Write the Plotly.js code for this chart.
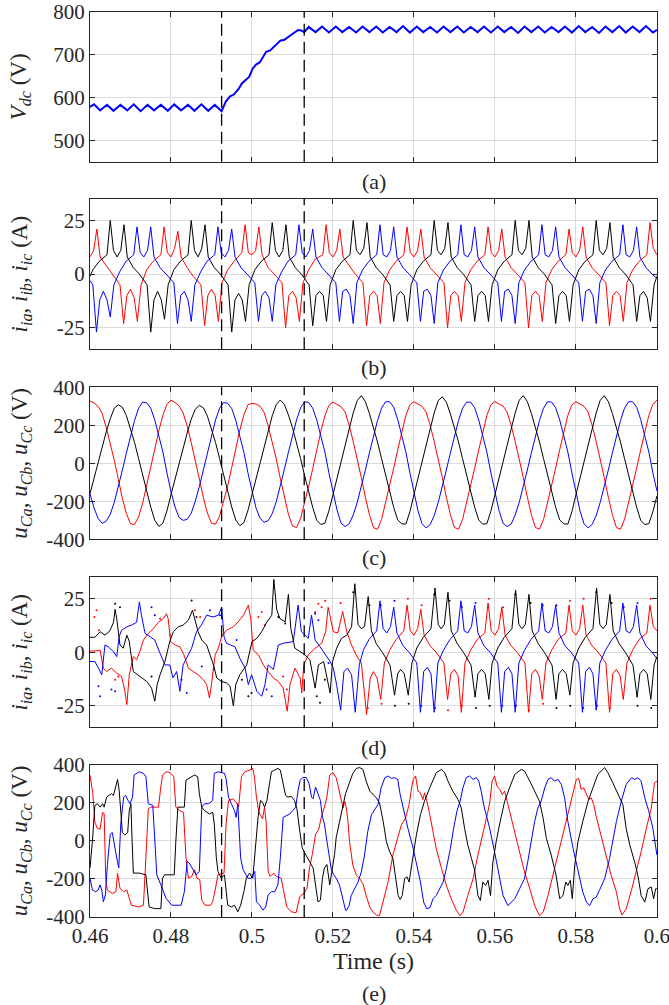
<!DOCTYPE html>
<html>
<head>
<meta charset="utf-8">
<script src="https://cdn.plot.ly/plotly-3.0.1.min.js"></script>
<style>html,body{margin:0;padding:0;background:#fff;}#chart{width:669px;height:1005px;}</style>
</head>
<body>
<div id="chart"></div>
<script>
// ---------------- DATA ----------------
const xTickVals = [0.46, 0.48, 0.50, 0.52, 0.54, 0.56, 0.58, 0.60];
const xTickText = ['0.46', '0.48', '0.5', '0.52', '0.54', '0.56', '0.58', '0.6'];
const vdcTickVals = [500, 600, 700, 800];
const curTickVals = [-25, 0, 25];
const curTickText = ['-25', '0', '25'];
const voltTickVals = [-400, -200, 0, 200, 400];
const voltTickText = ['-400', '-200', '0', '200', '400'];
const eventTimes = [0.4925, 0.5129];
const panelLabels = ['(a)', '(b)', '(c)', '(d)', '(e)'];

// (a) DC-link voltage [time, V]
const vdc = [[0.4600,578],[0.4610,584],[0.4625,570],[0.4642,583],[0.4658,569],[0.4675,583],[0.4692,570],[0.4708,584],[0.4725,568],[0.4742,583],[0.4758,570],[0.4775,583],[0.4792,569],[0.4808,584],[0.4825,570],[0.4842,583],[0.4858,569],[0.4875,584],[0.4892,569],[0.4908,583],[0.4925,568],
[0.4935,590],[0.4946,603],[0.4955,607],[0.4967,620],[0.4975,633],[0.4983,640],[0.4993,648],[0.5002,668],[0.5010,677],[0.5019,682],[0.5028,695],[0.5035,707],[0.5045,710],[0.5052,716],[0.5062,724],[0.5070,733],[0.5080,735],[0.5093,745],[0.5105,752],[0.5114,758],[0.5122,757],[0.5129,753],
[0.5140,765],[0.5157,753],[0.5173,766],[0.5190,752],[0.5207,766],[0.5223,753],[0.5240,765],[0.5257,752],[0.5273,766],[0.5290,753],[0.5307,766],[0.5323,752],[0.5340,765],[0.5357,753],[0.5373,767],[0.5390,752],[0.5407,766],[0.5423,753],[0.5440,765],[0.5457,752],[0.5473,766],[0.5490,753],[0.5507,766],[0.5523,752],[0.5540,765],[0.5557,753],[0.5573,766],[0.5590,752],[0.5607,766],[0.5623,753],[0.5640,765],[0.5657,751],[0.5673,766],[0.5690,753],[0.5707,766],[0.5723,752],[0.5740,765],[0.5757,753],[0.5773,766],[0.5790,752],[0.5807,767],[0.5823,753],[0.5840,765],[0.5857,751],[0.5873,766],[0.5890,753],[0.5907,767],[0.5923,752],[0.5940,766],[0.5957,753],[0.5973,767],[0.5990,752],[0.6000,758]];

// (b) currents [time, A]
const bRed = [[0.4600,8],[0.4609,11],[0.4617,21],[0.4625,8],[0.4640,4],[0.4655,0],[0.4674,-5],[0.4683,-23],[0.4691,-10],[0.4700,-7],[0.4709,-11],[0.4717,-22],[0.4726,-5],[0.4740,2],[0.4756,6],[0.4775,9],
[0.4783,22],[0.4791,10],[0.4800,8],[0.4809,12],[0.4817,20],[0.4825,8],[0.4840,3],[0.4855,-1],[0.4874,-5],[0.4883,-24],[0.4891,-10],[0.4900,-7],[0.4909,-10],[0.4917,-22],[0.4926,-4],[0.4940,2],[0.4956,6],[0.4975,10],
[0.4983,23],[0.4991,10],[0.5000,9],[0.5009,11],[0.5017,22],[0.5025,9],[0.5040,3],[0.5055,0],[0.5074,-4],[0.5083,-25],[0.5091,-10],[0.5100,-8],[0.5109,-11],[0.5117,-22],[0.5126,-4],[0.5140,2],[0.5156,7],[0.5175,9],
[0.5183,23],[0.5191,10],[0.5200,8],[0.5209,11],[0.5217,21],[0.5225,8],[0.5240,4],[0.5255,0],[0.5274,-4],[0.5283,-24],[0.5291,-10],[0.5300,-8],[0.5309,-10],[0.5317,-23],[0.5326,-4],[0.5340,2],[0.5356,6],[0.5375,9],
[0.5383,22],[0.5391,10],[0.5400,8],[0.5409,11],[0.5417,21],[0.5425,8],[0.5440,3],[0.5455,0],[0.5474,-4],[0.5483,-25],[0.5491,-10],[0.5500,-8],[0.5509,-10],[0.5517,-22],[0.5526,-4],[0.5540,2],[0.5556,6],[0.5575,9],
[0.5583,22],[0.5591,10],[0.5600,8],[0.5609,11],[0.5617,21],[0.5625,8],[0.5640,3],[0.5655,0],[0.5674,-4],[0.5683,-25],[0.5691,-10],[0.5700,-8],[0.5709,-10],[0.5717,-22],[0.5726,-4],[0.5740,2],[0.5756,6],[0.5775,9],
[0.5783,21],[0.5791,10],[0.5800,8],[0.5809,11],[0.5817,22],[0.5825,8],[0.5840,3],[0.5855,0],[0.5874,-4],[0.5883,-24],[0.5891,-10],[0.5900,-8],[0.5909,-10],[0.5917,-22],[0.5926,-4],[0.5940,2],[0.5956,6],[0.5975,9],
[0.5983,24],[0.5991,12],[0.6000,9]];
const bBlack = [[0.4600,-1],[0.4607,2],[0.4623,6],[0.4642,9],[0.4650,25],[0.4658,11],[0.4667,8],[0.4676,11],[0.4684,23],[0.4692,8],[0.4707,3],[0.4722,0],[0.4741,-5],[0.4750,-27],[0.4758,-12],[0.4767,-8],[0.4776,-12],[0.4784,-21],[0.4793,-5],[0.4807,2],[0.4823,6],[0.4842,9],
[0.4850,25],[0.4858,11],[0.4867,8],[0.4876,12],[0.4884,23],[0.4892,8],[0.4907,3],[0.4922,0],[0.4941,-5],[0.4950,-27],[0.4958,-12],[0.4967,-9],[0.4976,-12],[0.4984,-22],[0.4993,-5],[0.5007,2],[0.5023,6],[0.5042,9],
[0.5050,24],[0.5058,11],[0.5067,8],[0.5076,11],[0.5084,23],[0.5092,8],[0.5107,3],[0.5122,0],[0.5141,-5],[0.5150,-24],[0.5158,-10],[0.5167,-8],[0.5176,-10],[0.5184,-22],[0.5193,-5],[0.5207,2],[0.5223,6],[0.5242,9],
[0.5250,25],[0.5258,11],[0.5267,9],[0.5276,12],[0.5284,24],[0.5292,8],[0.5307,3],[0.5322,0],[0.5341,-5],[0.5350,-22],[0.5358,-10],[0.5367,-8],[0.5376,-10],[0.5384,-22],[0.5393,-5],[0.5407,2],[0.5423,6],[0.5442,9],
[0.5450,25],[0.5458,11],[0.5467,9],[0.5476,12],[0.5484,24],[0.5492,8],[0.5507,3],[0.5522,0],[0.5541,-5],[0.5550,-22],[0.5558,-10],[0.5567,-8],[0.5576,-10],[0.5584,-22],[0.5593,-5],[0.5607,2],[0.5623,6],[0.5642,9],
[0.5650,25],[0.5658,11],[0.5667,9],[0.5676,12],[0.5684,25],[0.5692,8],[0.5707,3],[0.5722,0],[0.5741,-5],[0.5750,-23],[0.5758,-10],[0.5767,-8],[0.5776,-10],[0.5784,-22],[0.5793,-5],[0.5807,2],[0.5823,6],[0.5842,9],
[0.5850,25],[0.5858,11],[0.5867,9],[0.5876,12],[0.5884,24],[0.5892,8],[0.5907,3],[0.5922,0],[0.5941,-5],[0.5950,-22],[0.5958,-10],[0.5967,-8],[0.5976,-11],[0.5984,-22],[0.5993,-5],[0.6000,-1]];
const bBlue = [[0.4600,-3],[0.4607,-5],[0.4616,-27],[0.4624,-12],[0.4633,-8],[0.4642,-12],[0.4650,-20],[0.4659,-5],[0.4673,1],[0.4689,6],[0.4708,9],
[0.4716,22],[0.4724,10],[0.4733,8],[0.4742,11],[0.4750,22],[0.4758,8],[0.4773,3],[0.4788,0],[0.4807,-4],[0.4816,-23],[0.4824,-10],[0.4833,-8],[0.4842,-12],[0.4850,-22],[0.4859,-5],[0.4873,1],[0.4889,6],[0.4908,9],
[0.4916,22],[0.4924,10],[0.4933,8],[0.4942,11],[0.4950,21],[0.4958,8],[0.4973,3],[0.4988,0],[0.5007,-4],[0.5016,-22],[0.5024,-10],[0.5033,-8],[0.5042,-11],[0.5050,-22],[0.5059,-5],[0.5073,1],[0.5089,6],[0.5108,9],
[0.5116,23],[0.5124,10],[0.5133,8],[0.5142,11],[0.5150,21],[0.5158,8],[0.5173,3],[0.5188,0],[0.5207,-4],[0.5216,-22],[0.5224,-8],[0.5233,-7],[0.5242,-10],[0.5250,-23],[0.5259,-4],[0.5273,2],[0.5289,6],[0.5308,9],
[0.5316,23],[0.5324,9],[0.5333,8],[0.5342,11],[0.5350,22],[0.5358,8],[0.5373,3],[0.5388,0],[0.5407,-4],[0.5416,-22],[0.5424,-8],[0.5433,-7],[0.5442,-10],[0.5450,-23],[0.5459,-4],[0.5473,2],[0.5489,6],[0.5508,9],
[0.5516,23],[0.5524,9],[0.5533,8],[0.5542,11],[0.5550,22],[0.5558,8],[0.5573,3],[0.5588,0],[0.5607,-4],[0.5616,-22],[0.5624,-8],[0.5633,-7],[0.5642,-10],[0.5650,-23],[0.5659,-4],[0.5673,2],[0.5689,6],[0.5708,9],
[0.5716,23],[0.5724,9],[0.5733,8],[0.5742,11],[0.5750,22],[0.5758,8],[0.5773,3],[0.5788,0],[0.5807,-4],[0.5816,-22],[0.5824,-8],[0.5833,-7],[0.5842,-10],[0.5850,-23],[0.5859,-4],[0.5873,2],[0.5889,6],[0.5908,9],
[0.5916,23],[0.5924,9],[0.5933,8],[0.5942,11],[0.5950,22],[0.5958,8],[0.5973,3],[0.5988,0],[0.6000,-2]];

// (c) capacitor voltages, sampled every 1 ms from 0.46 s [V]
const cStart = 0.46, cStep = 0.001;
const cRed = [328,318,300,262,190,105,15,-85,-185,-265,-318,-322,-282,-210,-120,-25,75,172,252,310,
333,320,302,265,195,108,18,-82,-182,-262,-315,-320,-278,-205,-118,-22,78,175,255,308,
316,312,300,268,198,112,22,-80,-180,-268,-330,-338,-290,-210,-120,-28,72,168,250,305,
322,310,298,270,200,115,25,-75,-178,-270,-338,-347,-295,-210,-118,-25,72,168,252,308,
324,312,300,270,200,115,25,-75,-178,-270,-338,-347,-295,-210,-118,-25,70,168,252,308,
325,312,302,270,200,115,25,-75,-178,-270,-338,-346,-295,-210,-118,-25,72,168,252,308,
324,312,300,270,200,115,25,-75,-178,-270,-338,-347,-295,-210,-118,-25,72,168,252,310,333];
const cBlack = [-160,-75,5,85,165,235,290,308,295,250,185,110,25,-65,-150,-230,-300,-332,-315,-250,
-165,-80,0,80,160,232,285,305,292,248,185,110,25,-65,-150,-230,-298,-328,-312,-248,
-165,-80,5,85,170,250,310,333,310,255,188,112,25,-65,-152,-232,-300,-322,-315,-250,
-165,-75,10,95,180,265,330,356,325,262,190,112,25,-65,-152,-232,-298,-318,-320,-255,
-165,-75,10,95,180,265,330,350,322,260,190,112,25,-65,-152,-232,-298,-320,-318,-252,
-165,-75,10,95,180,265,332,356,325,262,190,112,25,-65,-152,-232,-298,-318,-320,-255,
-165,-75,10,95,180,265,332,356,325,262,190,112,25,-65,-152,-232,-300,-322,-318,-255,-172];
const cBlue = [-160,-235,-290,-316,-305,-268,-205,-125,-35,55,145,225,290,322,318,290,228,150,60,-50,
-150,-230,-285,-300,-295,-262,-200,-122,-32,58,148,228,290,320,316,288,226,148,58,-50,
-150,-235,-290,-310,-302,-265,-202,-122,-32,58,148,228,292,324,320,290,228,150,60,-50,
-155,-245,-315,-333,-318,-272,-205,-125,-35,55,145,225,290,324,324,295,230,150,60,-50,
-155,-250,-318,-340,-322,-275,-205,-125,-35,55,145,225,290,322,322,292,228,150,60,-50,
-155,-248,-315,-333,-320,-272,-205,-125,-35,55,145,225,290,324,322,292,228,150,60,-50,
-155,-250,-318,-340,-322,-275,-205,-125,-35,55,145,225,290,324,324,295,230,150,60,-50,-145];

// (d) currents [time, A]
const dRed = [[0.4600,0.6],[0.4612,0.6],[0.4625,1],[0.4633,-7.4],[0.4641,-9],[0.4653,-7.4],[0.4666,-9.7],[0.4678,-11.3],[0.4686,-18],[0.4691,-24.4],[0.4697,-10.5],[0.4707,-2],[0.4715,-3.5],[0.4723,0.3],[0.4732,5.7],[0.4744,8.8],[0.4756,11],[0.4769,14],[0.4781,15.7],[0.4789,18],[0.4793,15.7],[0.4799,5],[0.4810,3.4],[0.4822,2.6],[0.4832,-1.2],[0.4843,-7.4],[0.4855,-9],[0.4867,-10.5],[0.4880,-12.8],[0.4888,-15],[0.4895,-21.3],[0.4900,-15],[0.4909,-1.2],[0.4917,1.9],[0.4925,7.3],[0.4937,10.3],[0.4954,11.9],[0.4966,14.2],[0.4979,17.3],[0.4991,22],[0.4997,15.7],[0.5003,1],[0.5016,-1.2],[0.5028,-5.9],[0.5040,-9],[0.5053,-12],[0.5065,-13.6],[0.5077,-16.7],[0.5087,-27.5],[0.5094,-15],[0.5106,-7.4],[0.5119,-12],[0.5123,-19],[0.5128,-5.9],[0.5139,-1.2],[0.5156,1.9],[0.5172,4.2],[0.5182,9.6],[0.5188,21],[0.5195,14],[0.5201,9.6],[0.5212,9],[0.5220,16],[0.5224,19],[0.5234,9.6],[0.5246,3.4],[0.5257,-1.2],[0.5270,-5],[0.5283,-29],[0.5292,-12],[0.5300,-9],[0.5309,-12],[0.5318,-22],[0.5327,-5],[0.5340,1],[0.5356,6],[0.5375,10],
[0.5383,22],[0.5391,10],[0.5400,8],[0.5409,11],[0.5417,20],[0.5425,8],[0.5440,3],[0.5455,0],[0.5474,-5],[0.5483,-22],[0.5491,-10],[0.5500,-8],[0.5509,-11],[0.5517,-28],[0.5526,-5],[0.5540,1],[0.5556,6],[0.5575,9],
[0.5583,23],[0.5591,10],[0.5600,8],[0.5609,11],[0.5617,21],[0.5625,8],[0.5640,3],[0.5655,0],[0.5674,-5],[0.5683,-28],[0.5691,-10],[0.5700,-8],[0.5709,-11],[0.5717,-22],[0.5726,-5],[0.5740,1],[0.5756,6],[0.5775,9],
[0.5783,22],[0.5791,10],[0.5800,8],[0.5809,11],[0.5817,22],[0.5825,8],[0.5840,3],[0.5855,0],[0.5874,-5],[0.5883,-28],[0.5891,-10],[0.5900,-8],[0.5909,-11],[0.5917,-22],[0.5926,-5],[0.5940,1],[0.5956,6],[0.5975,9],[0.5983,22],[0.5991,12],[0.6000,10]];
const dBlack = [[0.4600,7],[0.4612,7],[0.4625,9.6],[0.4637,8],[0.4649,10],[0.4658,14],[0.4662,20],[0.4666,15.7],[0.4674,3.4],[0.4682,1.9],[0.4691,8],[0.4697,5],[0.4707,-9],[0.4723,-11.3],[0.4740,-13.6],[0.4752,-16.7],[0.4760,-22.8],[0.4766,-15],[0.4773,-10.5],[0.4785,-4.3],[0.4797,5],[0.4806,9.6],[0.4818,11.9],[0.4830,12.7],[0.4843,15],[0.4853,19.6],[0.4859,15],[0.4867,9.6],[0.4876,5.7],[0.4888,3.4],[0.4905,-5.9],[0.4913,-12],[0.4925,-13.6],[0.4937,-14.3],[0.4946,-15.9],[0.4954,-25],[0.4960,-15],[0.4970,-10.5],[0.4987,-5.9],[0.5000,5],[0.5012,6.5],[0.5024,9.6],[0.5037,14.2],[0.5049,17.3],[0.5054,34],[0.5061,20],[0.5069,15.7],[0.5082,14.2],[0.5090,27],[0.5096,11],[0.5106,1.9],[0.5119,0.3],[0.5131,-1.2],[0.5143,-3.5],[0.5156,-16.7],[0.5164,-5.9],[0.5177,-4.3],[0.5193,-19],[0.5199,-4.3],[0.5209,1.9],[0.5221,6.5],[0.5234,8],[0.5246,11.9],[0.5254,32],
[0.5262,13],[0.5270,11],[0.5278,12],[0.5287,26],[0.5295,10],[0.5307,4],[0.5322,0],[0.5341,-6],[0.5352,-20],[0.5360,-10],[0.5367,-8],[0.5376,-10],[0.5386,-20],[0.5395,-5],[0.5407,2],[0.5423,7],[0.5442,11],
[0.5452,30],[0.5460,13],[0.5467,11],[0.5475,13],[0.5484,28],[0.5492,10],[0.5507,4],[0.5522,0],[0.5541,-6],[0.5551,-21],[0.5558,-10],[0.5567,-8],[0.5576,-10],[0.5585,-22],[0.5593,-5],[0.5607,2],[0.5623,7],[0.5642,11],
[0.5651,29],[0.5659,13],[0.5667,11],[0.5675,13],[0.5684,27],[0.5692,10],[0.5707,4],[0.5722,0],[0.5741,-6],[0.5751,-22],[0.5758,-10],[0.5767,-8],[0.5776,-10],[0.5785,-20],[0.5793,-5],[0.5807,2],[0.5823,7],[0.5842,11],
[0.5851,30],[0.5859,13],[0.5867,11],[0.5875,13],[0.5884,27],[0.5892,10],[0.5907,4],[0.5922,0],[0.5941,-6],[0.5951,-21],[0.5958,-10],[0.5967,-8],[0.5976,-10],[0.5985,-22],[0.5993,-6],[0.6000,-2]];
const dBlue = [[0.4600,-4.3],[0.4612,-4.3],[0.4621,-7.4],[0.4629,-10.5],[0.4637,3.4],[0.4645,2.6],[0.4658,0.3],[0.4666,-2],[0.4672,7.3],[0.4678,10.3],[0.4691,11.9],[0.4703,12.7],[0.4715,14],[0.4722,23.5],[0.4727,17.3],[0.4736,8.8],[0.4748,7.3],[0.4760,5.7],[0.4773,-0.5],[0.4785,-5.9],[0.4797,-5.9],[0.4805,-12],[0.4814,-9],[0.4822,-18.2],[0.4830,-5.9],[0.4838,-2.8],[0.4851,1.9],[0.4863,9.6],[0.4875,12.7],[0.4888,17.3],[0.4904,16.5],[0.4917,17.3],[0.4925,21],[0.4931,7.3],[0.4937,4.2],[0.4947,3.4],[0.4958,2.6],[0.4970,-2.8],[0.4983,-7.4],[0.4991,-15.1],[0.4999,-10.5],[0.5012,-18.2],[0.5024,-20.5],[0.5032,-15.1],[0.5040,-5.9],[0.5053,-8],[0.5065,3.4],[0.5077,4.2],[0.5090,4.5],[0.5102,5],[0.5114,22],[0.5122,9.6],[0.5131,8],[0.5139,6.5],[0.5147,17.3],[0.5156,5.7],[0.5168,2.6],[0.5180,-0.5],[0.5193,-4.3],[0.5201,-7.4],[0.5209,-15.1],[0.5219,-27],[0.5227,-9],[0.5236,-7.4],[0.5246,-10.5],[0.5255,-28],[0.5265,-5.9],
[0.5275,1],[0.5289,6],[0.5308,10],[0.5316,24],[0.5324,11],[0.5333,9],[0.5342,12],[0.5350,21],[0.5358,9],[0.5373,3],[0.5388,0],[0.5407,-5],[0.5416,-28],[0.5424,-9],[0.5433,-7],[0.5442,-10],[0.5450,-28],[0.5459,-5],[0.5473,1],[0.5489,6],[0.5508,10],
[0.5516,24],[0.5524,10],[0.5533,9],[0.5542,12],[0.5550,22],[0.5558,9],[0.5573,3],[0.5588,0],[0.5607,-5],[0.5616,-28],[0.5624,-9],[0.5633,-7],[0.5642,-10],[0.5650,-28],[0.5659,-5],[0.5673,1],[0.5689,6],[0.5708,10],
[0.5716,23],[0.5724,10],[0.5733,9],[0.5742,12],[0.5750,22],[0.5758,9],[0.5773,3],[0.5788,0],[0.5807,-5],[0.5816,-28],[0.5824,-9],[0.5833,-7],[0.5842,-10],[0.5850,-27],[0.5859,-5],[0.5873,1],[0.5889,6],[0.5908,10],
[0.5916,23],[0.5924,10],[0.5933,9],[0.5942,12],[0.5950,22],[0.5958,9],[0.5973,3],[0.5988,0],[0.6000,-3]];
const dRedDots = [[0.4611,16.5],[0.4616,19.6],[0.4622,10.3],[0.4662,-12.8],[0.4670,-11.3],[0.4773,15.7],[0.4798,8],[0.4859,19.6],[0.4872,16.5],[0.4905,-8],[0.5016,16.5],[0.5024,18.8],[0.5032,12.7],[0.5077,-11.3],[0.5086,-17.4],[0.5156,18.8],[0.5164,22.7],[0.5172,21],[0.5181,24],[0.5219,23],[0.5286,-26],[0.5320,-24],[0.5385,25],[0.5419,22],[0.5484,-27],[0.5518,-25],[0.5585,25],[0.5620,21],[0.5684,-27],[0.5719,-24],[0.5785,24],[0.5819,25],[0.5884,-26],[0.5985,25]];
const dBlackDots = [[0.4662,22.7],[0.4674,21],[0.4752,-11.3],[0.4851,24.2],[0.4863,16.5],[0.4925,19.6],[0.4975,-12.8],[0.4991,-20.5],[0.4999,-19],[0.5065,16.5],[0.5082,13.4],[0.5160,-20.5],[0.5168,-23.6],[0.5180,-12.8],[0.5250,28],[0.5290,22],[0.5353,-25],[0.5387,-24],[0.5450,27],[0.5488,24],[0.5553,-26],[0.5587,-25],[0.5650,27],[0.5688,23],[0.5752,-26],[0.5786,-25],[0.5850,28],[0.5888,23],[0.5952,-25],[0.5986,-26]];
const dBlueDots = [[0.4621,-15.9],[0.4625,-20.5],[0.4653,-17.4],[0.4662,-18.2],[0.4752,21],[0.4760,17.3],[0.4826,-12.8],[0.4839,-19],[0.4876,-6.6],[0.4896,19.6],[0.4921,17.3],[0.4962,5.7],[0.5036,-17.4],[0.5049,-20.5],[0.5156,18],[0.5164,15],[0.5189,-5],[0.5318,22],[0.5352,24],[0.5418,-25],[0.5452,-26],[0.5518,21],[0.5552,23],[0.5618,-25],[0.5652,-25],[0.5718,22],[0.5752,22],[0.5818,-26],[0.5852,-25],[0.5918,21],[0.5952,23]];

// (e) capacitor voltages [time, V]
const eRed = [[0.4600,347],[0.4607,249],[0.4612,98],[0.4618,68],[0.4625,62],[0.4631,151],[0.4635,142],[0.4639,-213],[0.4643,-258],[0.4655,-276],[0.4664,-267],[0.4668,-169],[0.4674,-249],[0.4683,-267],[0.4691,-258],[0.4697,-302],[0.4702,-338],[0.4721,-347],[0.4732,-338],[0.4738,-89],[0.4744,169],[0.4750,178],[0.4769,178],[0.4774,267],[0.4779,347],[0.4788,364],[0.4798,359],[0.4807,338],[0.4812,178],[0.4821,160],[0.4831,151],[0.4837,-89],[0.4843,-196],[0.4851,-187],[0.4858,-151],[0.4864,-196],[0.4871,-204],[0.4876,-311],[0.4884,-338],[0.4898,-338],[0.4903,-320],[0.4909,-258],[0.4916,-178],[0.4931,-169],[0.4936,89],[0.4942,213],[0.4953,222],[0.4961,204],[0.4967,178],[0.4974,338],[0.4982,364],[0.4994,373],[0.5002,382],[0.5006,338],[0.5011,231],[0.5017,151],[0.5026,116],[0.5031,178],[0.5035,98],[0.5040,-160],[0.5045,-187],[0.5054,-169],[0.5060,-187],[0.5072,-196],[0.5078,-267],[0.5086,-347],[0.5097,-373],[0.5109,-377],[0.5118,-293],[0.5128,-276],[0.5136,-249],[0.5142,-142],[0.5149,-71],[0.5157,36],[0.5165,62],[0.5171,124],[0.5179,178],[0.5185,231],[0.5192,347],[0.5200,359],[0.5208,333],[0.5217,244],[0.5225,173],[0.5229,209],[0.5233,173],[0.5237,103],[0.5241,-4],[0.5249,-127],[0.5258,-181],[0.5266,-198],[0.5274,-225],[0.5282,-287],[0.5291,-349],[0.5299,-375],[0.5307,-389],[0.5315,-393],[0.5324,-322],[0.5336,-216],[0.5348,-74],[0.5361,32],[0.5369,85],[0.5379,120],[0.5388,191],[0.5393,262],[0.5398,324],[0.5404,342],[0.5410,262],[0.5416,253],[0.5422,218],[0.5426,253],[0.5432,209],[0.5439,138],[0.5447,50],[0.5455,-39],[0.5468,-145],[0.5480,-234],[0.5492,-304],[0.5505,-366],[0.5514,-393],[0.5521,-375],[0.5533,-287],[0.5546,-198],[0.5558,-74],[0.5570,32],[0.5579,120],[0.5587,200],[0.5593,315],[0.5599,342],[0.5605,289],[0.5612,271],[0.5618,244],[0.5624,262],[0.5630,209],[0.5636,156],[0.5649,50],[0.5661,-57],[0.5673,-163],[0.5686,-251],[0.5698,-340],[0.5710,-393],[0.5719,-375],[0.5731,-287],[0.5743,-181],[0.5756,-74],[0.5768,32],[0.5780,138],[0.5793,262],[0.5801,324],[0.5807,329],[0.5813,271],[0.5819,280],[0.5826,244],[0.5832,218],[0.5838,227],[0.5844,191],[0.5850,129],[0.5863,23],[0.5875,-74],[0.5887,-181],[0.5900,-269],[0.5908,-358],[0.5914,-389],[0.5924,-358],[0.5937,-260],[0.5949,-163],[0.5961,-57],[0.5974,67],[0.5986,173],[0.5994,306],[0.6000,315]];
const eBlack = [[0.4600,-142],[0.4606,0],[0.4612,187],[0.4618,196],[0.4625,178],[0.4631,196],[0.4635,178],[0.4641,231],[0.4647,240],[0.4653,249],[0.4658,240],[0.4664,302],[0.4668,324],[0.4672,267],[0.4676,142],[0.4680,44],[0.4686,32],[0.4693,44],[0.4697,160],[0.4701,196],[0.4704,0],[0.4707,-169],[0.4722,-169],[0.4738,-178],[0.4746,-347],[0.4759,-356],[0.4775,-356],[0.4779,-196],[0.4784,-178],[0.4808,-178],[0.4812,0],[0.4817,178],[0.4833,178],[0.4837,320],[0.4858,347],[0.4866,338],[0.4870,249],[0.4876,178],[0.4883,160],[0.4895,142],[0.4903,151],[0.4907,89],[0.4912,-89],[0.4916,-160],[0.4924,-196],[0.4932,-178],[0.4940,-338],[0.4949,-347],[0.4957,-338],[0.4965,-373],[0.4972,-338],[0.4980,-267],[0.4986,-196],[0.4994,-169],[0.5002,-196],[0.5008,-36],[0.5015,124],[0.5021,213],[0.5026,204],[0.5031,178],[0.5037,213],[0.5042,284],[0.5048,364],[0.5056,373],[0.5064,382],[0.5070,373],[0.5077,302],[0.5083,240],[0.5089,231],[0.5097,235],[0.5105,213],[0.5111,169],[0.5118,53],[0.5124,-36],[0.5130,-62],[0.5136,-89],[0.5142,-107],[0.5151,-142],[0.5157,-231],[0.5163,-320],[0.5169,-311],[0.5174,-196],[0.5179,-142],[0.5185,-124],[0.5192,-231],[0.5198,-142],[0.5204,-71],[0.5208,18],[0.5215,89],[0.5223,178],[0.5231,249],[0.5240,302],[0.5249,356],[0.5258,382],[0.5266,386],[0.5274,377],[0.5282,315],[0.5291,262],[0.5299,244],[0.5307,227],[0.5315,200],[0.5324,103],[0.5332,-4],[0.5340,-57],[0.5348,-92],[0.5355,-198],[0.5361,-287],[0.5366,-308],[0.5371,-287],[0.5377,-198],[0.5383,-189],[0.5388,-216],[0.5398,-74],[0.5406,32],[0.5416,138],[0.5426,209],[0.5439,280],[0.5455,359],[0.5468,377],[0.5476,359],[0.5484,315],[0.5496,262],[0.5509,218],[0.5517,173],[0.5525,67],[0.5533,-21],[0.5542,-92],[0.5550,-154],[0.5558,-287],[0.5564,-313],[0.5570,-216],[0.5577,-234],[0.5583,-207],[0.5589,-287],[0.5595,-110],[0.5603,-4],[0.5613,103],[0.5624,209],[0.5636,280],[0.5649,350],[0.5665,377],[0.5673,368],[0.5686,315],[0.5698,262],[0.5710,209],[0.5719,120],[0.5727,14],[0.5739,-74],[0.5751,-181],[0.5760,-304],[0.5768,-287],[0.5775,-216],[0.5780,-234],[0.5786,-207],[0.5791,-304],[0.5797,-127],[0.5805,-4],[0.5817,103],[0.5830,209],[0.5842,280],[0.5854,350],[0.5871,386],[0.5879,359],[0.5891,306],[0.5904,244],[0.5916,191],[0.5924,67],[0.5933,-21],[0.5945,-110],[0.5953,-181],[0.5961,-287],[0.5970,-322],[0.5978,-251],[0.5986,-242],[0.5992,-304],[0.5997,-251],[0.6000,-251]];
const eBlue = [[0.4600,-196],[0.4606,-258],[0.4614,-267],[0.4620,-258],[0.4625,-231],[0.4629,-258],[0.4633,-320],[0.4638,-284],[0.4643,-124],[0.4650,36],[0.4655,44],[0.4661,-18],[0.4666,-89],[0.4671,-142],[0.4676,89],[0.4683,231],[0.4688,240],[0.4694,213],[0.4699,196],[0.4705,231],[0.4709,347],[0.4721,364],[0.4732,356],[0.4738,338],[0.4744,196],[0.4755,187],[0.4760,18],[0.4765,-178],[0.4775,-231],[0.4788,-302],[0.4802,-338],[0.4825,-338],[0.4833,-267],[0.4840,-107],[0.4845,-116],[0.4854,-151],[0.4862,-178],[0.4870,-160],[0.4876,178],[0.4883,196],[0.4893,196],[0.4903,213],[0.4907,356],[0.4916,364],[0.4932,356],[0.4936,329],[0.4942,231],[0.4949,196],[0.4957,160],[0.4961,124],[0.4965,196],[0.4972,-89],[0.4978,-151],[0.4990,-196],[0.4998,-196],[0.5007,-160],[0.5011,-320],[0.5019,-338],[0.5027,-364],[0.5034,-347],[0.5040,-284],[0.5048,-267],[0.5056,-267],[0.5064,-231],[0.5070,-89],[0.5077,124],[0.5085,133],[0.5093,142],[0.5101,160],[0.5108,178],[0.5114,267],[0.5119,320],[0.5126,334],[0.5134,334],[0.5141,302],[0.5147,231],[0.5151,222],[0.5157,284],[0.5163,249],[0.5169,213],[0.5174,124],[0.5179,89],[0.5185,0],[0.5190,-71],[0.5196,-151],[0.5202,-178],[0.5208,-196],[0.5216,-231],[0.5223,-302],[0.5231,-364],[0.5233,-366],[0.5240,-340],[0.5245,-287],[0.5254,-251],[0.5262,-216],[0.5270,-163],[0.5278,-74],[0.5286,50],[0.5295,138],[0.5303,165],[0.5311,191],[0.5319,280],[0.5328,333],[0.5336,342],[0.5344,329],[0.5352,333],[0.5360,324],[0.5366,244],[0.5373,173],[0.5385,67],[0.5398,-39],[0.5407,-127],[0.5416,-216],[0.5424,-322],[0.5432,-358],[0.5440,-349],[0.5447,-304],[0.5455,-287],[0.5463,-251],[0.5472,-216],[0.5480,-145],[0.5490,-39],[0.5498,67],[0.5506,156],[0.5514,209],[0.5521,280],[0.5529,333],[0.5537,342],[0.5546,324],[0.5554,333],[0.5560,315],[0.5566,262],[0.5574,173],[0.5587,67],[0.5599,-57],[0.5610,-181],[0.5620,-287],[0.5632,-340],[0.5640,-322],[0.5649,-304],[0.5661,-251],[0.5673,-198],[0.5681,-110],[0.5690,-4],[0.5698,103],[0.5706,173],[0.5714,209],[0.5723,280],[0.5731,324],[0.5739,333],[0.5747,315],[0.5756,324],[0.5764,297],[0.5772,227],[0.5780,103],[0.5793,-39],[0.5805,-163],[0.5817,-269],[0.5826,-322],[0.5834,-340],[0.5842,-304],[0.5850,-296],[0.5858,-260],[0.5871,-198],[0.5883,-92],[0.5891,-4],[0.5900,103],[0.5912,209],[0.5924,297],[0.5937,333],[0.5945,324],[0.5953,333],[0.5961,315],[0.5970,227],[0.5980,156],[0.5990,67],[0.6000,-74]];

// ---------------- BUILD ----------------
const RED = '#ff0000', BLUE = '#0000ff', BLACK = '#000000';
const xs = a => a.map(p => p[0]);
const ys = a => a.map(p => p[1]);
const cTime = cRed.map((_, k) => +(cStart + k * cStep).toFixed(4));

function line(arr, color, ax, w) {
  return {x: xs(arr), y: ys(arr), type: 'scatter', mode: 'lines', xaxis: 'x' + ax, yaxis: 'y' + ax,
          line: {color: color, width: w || 1}, hoverinfo: 'skip'};
}
function dots(arr, color, ax) {
  return {x: xs(arr), y: ys(arr), type: 'scatter', mode: 'markers', xaxis: 'x' + ax, yaxis: 'y' + ax,
          marker: {color: color, size: 2}, hoverinfo: 'skip'};
}
function lineU(vals, color, ax) {
  return {x: cTime, y: vals, type: 'scatter', mode: 'lines', xaxis: 'x' + ax, yaxis: 'y' + ax,
          line: {color: color, width: 1}, hoverinfo: 'skip'};
}

const traces = [
  line(vdc, BLUE, '', 2),
  line(bRed, RED, '2'), line(bBlue, BLUE, '2'), line(bBlack, BLACK, '2'),
  lineU(cRed, RED, '3'), lineU(cBlue, BLUE, '3'), lineU(cBlack, BLACK, '3'),
  dots(dRedDots, RED, '4'), dots(dBlueDots, BLUE, '4'), dots(dBlackDots, BLACK, '4'),
  line(dRed, RED, '4'), line(dBlue, BLUE, '4'), line(dBlack, BLACK, '4'),
  line(eRed, RED, '5'), line(eBlue, BLUE, '5'), line(eBlack, BLACK, '5')
];

const AXC = '#262626', GRID = '#dcdcdc';
const FONT = 'Liberation Serif';
const XRANGE = [0.46, 0.60002];
function xax(i, showLabels) {
  const a = {range: XRANGE, tickvals: xTickVals, ticktext: xTickText, showticklabels: showLabels,
    ticklabeloverflow: 'allow',
    showgrid: true, gridcolor: GRID, gridwidth: 1, zeroline: false, showline: true, linecolor: AXC, linewidth: 1,
    mirror: 'ticks', ticks: 'inside', ticklen: 5, tickcolor: AXC, anchor: 'y' + (i === 1 ? '' : i),
    tickfont: {family: FONT, size: 21, color: AXC}};
  if (i !== 1) a.matches = 'x';
  if (showLabels) a.title = {text: 'Time (s)', font: {family: FONT, size: 24, color: AXC}, standoff: 2};
  return a;
}
function yax(i, dom, rng, tv, tt, title, standoff) {
  return {domain: dom, range: rng, tickvals: tv, ticktext: tt, showgrid: true, gridcolor: GRID, gridwidth: 1,
    zeroline: false, showline: true, linecolor: AXC, linewidth: 1, mirror: 'ticks', ticks: 'inside', ticklen: 5,
    tickcolor: AXC, anchor: 'x' + (i === 1 ? '' : i), tickfont: {family: FONT, size: 21, color: AXC},
    ticklabeloverflow: 'allow',
    title: {text: title, font: {family: FONT, size: 23, color: AXC}, standoff: standoff}};
}
const iTitle = '<i>i</i><sub><i>ia</i></sub>, <i>i</i><sub><i>ib</i></sub>, <i>i</i><sub><i>ic</i></sub> (A)';
const uTitle = '<i>u</i><sub><i>Ca</i></sub>, <i>u</i><sub><i>Cb</i></sub>, <i>u</i><sub><i>Cc</i></sub> (V)';

const doms = [[0.8346, 1.0], [0.6273, 0.7934], [0.4173, 0.5853], [0.2096, 0.3754], [0.0, 0.1680]];
const labelY = [0.8122, 0.6077, 0.3967, 0.1878, -0.0840];

const shapes = [];
for (let i = 1; i <= 5; i++) {
  const s = i === 1 ? '' : String(i);
  eventTimes.forEach(t => shapes.push({type: 'line', xref: 'x' + s, yref: 'y' + s + ' domain', x0: t, x1: t, y0: 0, y1: 1,
    line: {color: '#000', width: 1.3, dash: '12px,6px'}, layer: 'above'}));
}
const annotations = panelLabels.map((txt, i) => ({text: txt, xref: 'paper', yref: 'paper', x: 0.5, y: labelY[i],
  xanchor: 'center', yanchor: 'middle', showarrow: false, font: {family: FONT, size: 22, color: AXC}}));

const layout = {
  width: 669, height: 1005, margin: {l: 90, r: 12, t: 12, b: 88},
  paper_bgcolor: '#ffffff', plot_bgcolor: '#ffffff', showlegend: false,
  font: {family: FONT, color: AXC},
  xaxis: xax(1, false), xaxis2: xax(2, false), xaxis3: xax(3, false), xaxis4: xax(4, false), xaxis5: xax(5, true),
  yaxis: yax(1, doms[0], [450, 800], vdcTickVals, vdcTickVals.map(String), '<i>V</i><sub><i>dc</i></sub> (V)', 20),
  yaxis2: yax(2, doms[1], [-35, 35], curTickVals, curTickText, iTitle, 22),
  yaxis3: yax(3, doms[2], [-400, 400], voltTickVals, voltTickText, uTitle, 12),
  yaxis4: yax(4, doms[3], [-35, 35], curTickVals, curTickText, iTitle, 22),
  yaxis5: yax(5, doms[4], [-400, 400], voltTickVals, voltTickText, uTitle, 12),
  shapes: shapes, annotations: annotations
};

Plotly.newPlot('chart', traces, layout, {displayModeBar: false, staticPlot: true});
</script>
</body>
</html>
